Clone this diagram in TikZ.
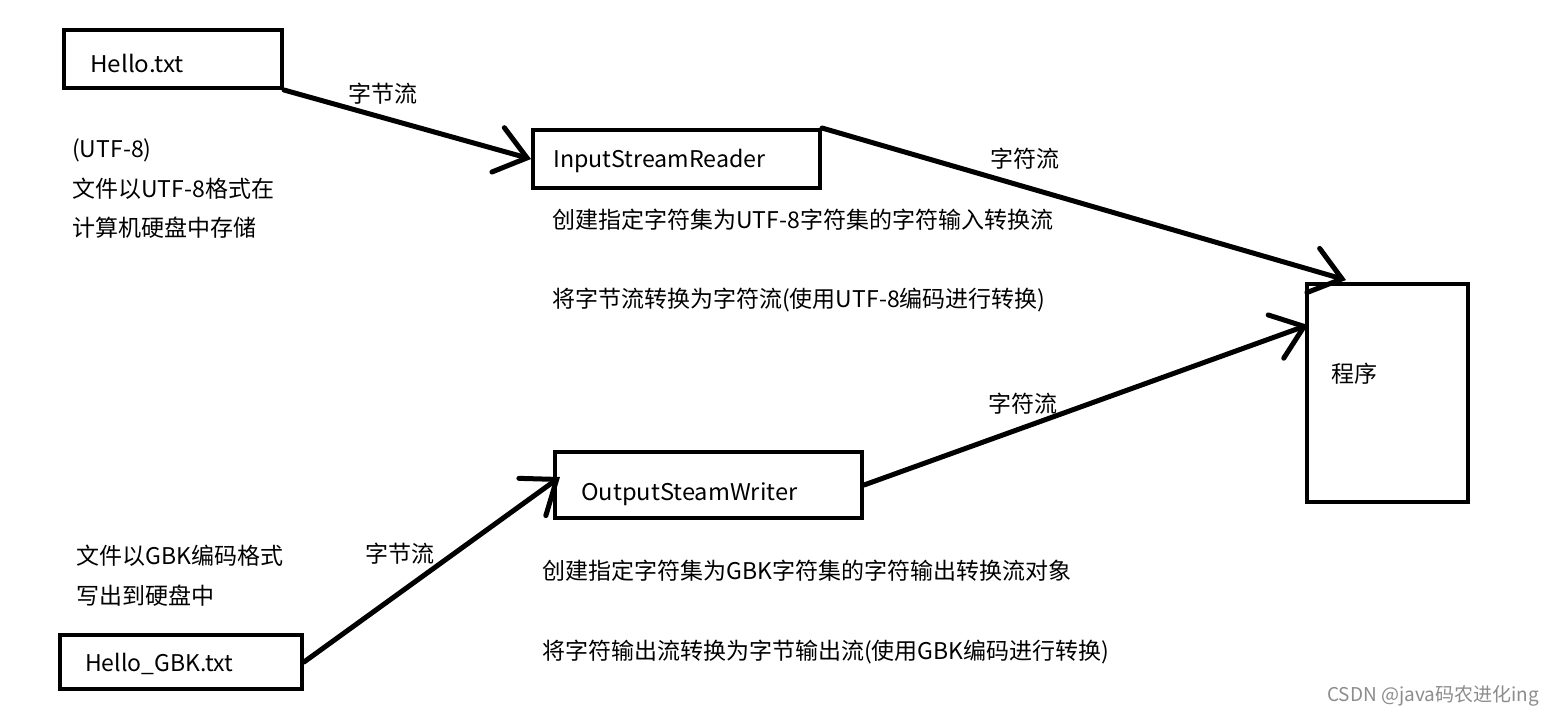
\documentclass[tikz,border=0pt]{standalone}
\usepackage{fontspec}
\setmainfont{Noto Sans CJK SC}
\usetikzlibrary{arrows.meta,calc}
\begin{document}
\begin{tikzpicture}[x=1pt,y=-1pt,
  box/.style={draw,line width=4pt,rectangle,inner sep=0pt},
  conn/.style={line width=5pt,line cap=round,-{Straight Barb[length=30pt,width=46pt,line cap=round]}},
  txt/.style={anchor=base west,inner sep=0pt,font=\fontsize{23}{28}\selectfont},
  wmark/.style={anchor=base east,inner sep=0pt,text=black!45,font=\fontsize{19}{23}\selectfont},
]
\useasboundingbox[fill=white] (0,0) rectangle (1552,713);

% boxes
\node[box,minimum width=218pt,minimum height=58pt] (hello) at (173,59) {};
\node[box,minimum width=287pt,minimum height=58pt] (isr) at (676.5,159) {};
\node[box,minimum width=307pt,minimum height=66pt] (osw) at (708.5,485) {};
\node[box,minimum width=161pt,minimum height=218pt] (prog) at (1387.5,393) {};
\node[box,minimum width=242pt,minimum height=54pt] (gbk) at (181,662) {};

% box texts
\node[txt] (thello) at (90,72) {\scalebox{1.05}[1]{Hello.txt}};
\node[txt] (tisr) at (553,167) {\scalebox{1.01}[1]{InputStreamReader}};
\node[txt] (tosw) at (581,500) {\scalebox{1.03}[1]{OutputSteamWriter}};
\node[txt] (tprog) at (1331,382) {程序};
\node[txt] (tgbk) at (85,671) {Hello\_GBK.txt};

% free texts
\node[txt] (u1) at (72,157) {(UTF-8)};
\node[txt] (u2) at (72,197) {文件以UTF-8格式在};
\node[txt] (u3) at (72,236) {计算机硬盘中存储};
\node[txt] (d1) at (552,228) {创建指定字符集为UTF-8字符集的字符输入转换流};
\node[txt] (d2) at (552,307) {将字节流转换为字符流(使用UTF-8编码进行转换)};
\node[txt] (g1) at (76,564) {文件以GBK编码格式};
\node[txt] (g2) at (76,604) {写出到硬盘中};
\node[txt] (e1) at (542,579) {创建指定字符集为GBK字符集的字符输出转换流对象};
\node[txt] (e2) at (542,659) {将字符输出流转换为字节输出流(使用GBK编码进行转换)};

% connector labels
\node[txt] (l1) at (348,102) {字节流};
\node[txt] (l2) at (990,167) {字符流};
\node[txt] (l3) at (988,412) {字符流};
\node[txt] (l4) at (365,562) {字节流};

% connector end points
\coordinate (p1) at ($(prog.north west)+(41,-2)$);
\coordinate (p2) at ($(prog.north west)+(3,43)$);
\coordinate (o1) at ($(osw.west)+(7,-8)$);

% connectors
\draw[conn] (hello.south east) -- (isr.west);
\draw[conn] (isr.north east) -- (p1);
\draw[conn] (gbk.east) -- (o1);
\draw[conn] (osw.east) -- (p2);

% watermark
\node[wmark] (wm) at (1539,701) {CSDN @java码农进化ing};
\end{tikzpicture}
\end{document}
